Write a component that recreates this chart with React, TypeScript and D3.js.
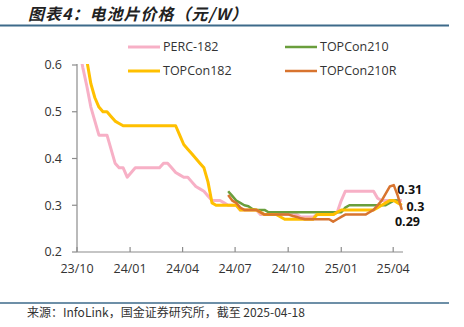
import React from "react";
import * as d3 from "d3";

const startWeek = "2023-10-04";
const weekCount = 81;

const perc182: (number | null)[] = [
  0.64, 0.595, 0.555, 0.51, 0.48, 0.45, 0.45, 0.45, 0.42, 0.39,
  0.38, 0.38, 0.36, 0.37, 0.38, 0.38, 0.38, 0.38, 0.38, 0.38,
  0.38, 0.39, 0.39, 0.38, 0.37, 0.365, 0.36, 0.36, 0.35, 0.34,
  0.335, 0.33, 0.32, 0.31, 0.31, 0.31, 0.305, 0.30, 0.30, 0.30,
  0.29, 0.29, 0.29, 0.29, 0.29, 0.28, 0.28, 0.28, 0.28, 0.28,
  0.28, 0.28, 0.28, 0.28, 0.28, 0.275, 0.275, 0.275, 0.275, 0.28,
  0.28, 0.28, 0.28, 0.28, 0.285, 0.31, 0.33, 0.33, 0.33, 0.33,
  0.33, 0.33, 0.33, 0.33, 0.315, 0.31, 0.31, 0.31, 0.31, 0.31,
  0.31,
];

const topcon182: (number | null)[] = [
  0.75, 0.68, 0.61, 0.56, 0.53, 0.51, 0.50, 0.50, 0.49, 0.48,
  0.475, 0.47, 0.47, 0.47, 0.47, 0.47, 0.47, 0.47, 0.47, 0.47,
  0.47, 0.47, 0.47, 0.47, 0.47, 0.45, 0.43, 0.42, 0.41, 0.40,
  0.39, 0.38, 0.35, 0.305, 0.30, 0.30, 0.30, 0.30, 0.30, 0.30,
  0.29, 0.29, 0.29, 0.29, 0.29, 0.285, 0.28, 0.28, 0.28, 0.28,
  0.275, 0.27, 0.27, 0.27, 0.27, 0.27, 0.27, 0.27, 0.27, 0.28,
  0.28, 0.28, 0.28, 0.28, 0.285, 0.29, 0.29, 0.29, 0.29, 0.29,
  0.29, 0.29, 0.29, 0.29, 0.295, 0.30, 0.305, 0.31, 0.31, 0.305,
  0.30,
];

const topcon210: (number | null)[] = [
  null, null, null, null, null, null, null, null, null, null,
  null, null, null, null, null, null, null, null, null, null,
  null, null, null, null, null, null, null, null, null, null,
  null, null, null, null, null, null, null, 0.33, 0.32, 0.31,
  0.305, 0.30, 0.298, 0.292, 0.29, 0.29, 0.29, 0.285, 0.285, 0.285,
  0.285, 0.285, 0.285, 0.285, 0.285, 0.285, 0.285, 0.285, 0.285, 0.285,
  0.285, 0.285, 0.285, 0.285, 0.285, 0.285, 0.295, 0.30, 0.30, 0.30,
  0.30, 0.30, 0.30, 0.30, 0.30, 0.30, 0.30, 0.305, 0.31, 0.31,
  null,
];

const topcon210R: (number | null)[] = [
  null, null, null, null, null, null, null, null, null, null,
  null, null, null, null, null, null, null, null, null, null,
  null, null, null, null, null, null, null, null, null, null,
  null, null, null, null, null, null, null, 0.322, 0.31, 0.305,
  0.295, 0.29, 0.29, 0.29, 0.29, 0.285, 0.28, 0.28, 0.28, 0.28,
  0.28, 0.28, 0.28, 0.277, 0.275, 0.272, 0.27, 0.27, 0.27, 0.27,
  0.27, 0.27, 0.27, 0.265, 0.27, 0.275, 0.28, 0.28, 0.28, 0.28,
  0.28, 0.28, 0.285, 0.29, 0.30, 0.31, 0.325, 0.34, 0.343, 0.32,
  0.29,
];

const seriesNames = ["PERC-182", "TOPCon210", "TOPCon182", "TOPCon210R"];
const seriesColors = ["#F7B0C6", "#6A9E3C", "#FFC000", "#D8742F"];
const seriesWidths = [3, 2.5, 3, 2.5];

const yTicks = [0.2, 0.3, 0.4, 0.5, 0.6];
const xTickDates = ["2023-10-01", "2024-01-01", "2024-04-01", "2024-07-01", "2024-10-01", "2025-01-01", "2025-04-01"];
const xTickLabels = ["23/10", "24/01", "24/04", "24/07", "24/10", "25/01", "25/04"];

const endLabels = ["0.31", "0.3", "0.29"];
const endLabelValues = [0.333, 0.298, 0.265];
const endLabelDates = ["2025-04-08", "2025-04-24", "2025-04-04"];

const title = "图表4：电池片价格（元/W）";
const source = "来源：InfoLink，国金证券研究所，截至 2025-04-18";

export default function App() {
  const parse = d3.utcParse("%Y-%m-%d");
  const start = parse(startWeek)!;
  const dates = d3.range(weekCount).map((i) => d3.utcDay.offset(start, i * 7));

  const left = 77, right = 403, top = 65, bottom = 252;
  const x = d3.scaleUtc().domain([parse("2023-10-01")!, parse("2025-04-18")!]).range([left, right]);
  const y = d3.scaleLinear().domain([0.2, 0.6]).range([bottom, top]);

  const allSeries = [perc182, topcon210, topcon182, topcon210R];
  const line = d3
    .line<number | null>()
    .defined((d) => d != null)
    .x((_, i) => x(dates[i]))
    .y((d) => y(d as number));

  const axisColor = "#8c8c8c";
  const font = "'Open Sans', 'Noto Sans', sans-serif";

  const legendItems = [
    { col: 0, row: 0 },
    { col: 1, row: 0 },
    { col: 0, row: 1 },
    { col: 1, row: 1 },
  ];
  const legendX = [128, 285];
  const legendY = [47, 71];

  return (
    <svg width={464} height={327} style={{ position: "absolute", left: 0, top: 0, background: "#fff" }}>
      <defs>
        <clipPath id="plot">
          <rect x={left} y={top - 1} width={right - left + 10} height={bottom - top + 1} />
        </clipPath>
      </defs>
      <text
        x={28}
        y={20}
        fontFamily="'Noto Sans CJK SC', sans-serif"
        fontWeight="bold"
        fontStyle="italic"
        fontSize={16}
        letterSpacing={1}
        fill="#222"
      >
        {title}
      </text>
      <line x1={0} x2={449} y1={25.5} y2={25.5} stroke="#3d6a8a" strokeWidth={2} />

      {/* y axis */}
      <line x1={left} x2={left} y1={top - 1} y2={bottom} stroke={axisColor} strokeWidth={1.2} />
      {yTicks.map((t) => (
        <g key={t}>
          <line x1={left - 5} x2={left} y1={y(t)} y2={y(t)} stroke={axisColor} strokeWidth={1.2} />
          <text x={62} y={y(t)} dy="0.35em" textAnchor="end" fontFamily={font} fontSize={12.5} fill="#333">
            {t.toFixed(1)}
          </text>
        </g>
      ))}

      {/* x axis */}
      <line x1={left} x2={right} y1={bottom} y2={bottom} stroke={axisColor} strokeWidth={1.2} />
      {xTickDates.map((d, i) => {
        const xx = x(parse(d)!);
        return (
          <g key={d}>
            <line x1={xx} x2={xx} y1={bottom - 5} y2={bottom} stroke={axisColor} strokeWidth={1.2} />
            <text x={xx} y={269} dy="0.35em" textAnchor="middle" fontFamily={font} fontSize={12.5} fill="#333">
              {xTickLabels[i]}
            </text>
          </g>
        );
      })}

      <g clipPath="url(#plot)">
        {allSeries.map((s, i) => (
          <path
            key={seriesNames[i]}
            d={line(s) || ""}
            fill="none"
            stroke={seriesColors[i]}
            strokeWidth={seriesWidths[i]}
            strokeLinejoin="round"
          />
        ))}
      </g>

      {endLabels.map((l, i) => (
        <text
          key={l}
          x={x(parse(endLabelDates[i])!)}
          y={y(endLabelValues[i])}
          dy="0.35em"
          fontFamily={font}
          fontWeight="bold"
          fontSize={12.5}
          fill="#111"
        >
          {l}
        </text>
      ))}

      {legendItems.map((it, i) => (
        <g key={seriesNames[i]}>
          <line
            x1={legendX[it.col]}
            x2={legendX[it.col] + 32}
            y1={legendY[it.row]}
            y2={legendY[it.row]}
            stroke={seriesColors[i]}
            strokeWidth={seriesWidths[i]}
          />
          <text x={legendX[it.col] + 35} y={legendY[it.row]} dy="0.35em" fontFamily={font} fontSize={12.5} fill="#333">
            {seriesNames[i]}
          </text>
        </g>
      ))}

      <line x1={0} x2={449} y1={303} y2={303} stroke="#3d6a8a" strokeWidth={1.5} />
      <text x={27} y={317} fontFamily="'Noto Sans CJK SC', sans-serif" fontSize={12} fill="#333">
        {source}
      </text>
    </svg>
  );
}
